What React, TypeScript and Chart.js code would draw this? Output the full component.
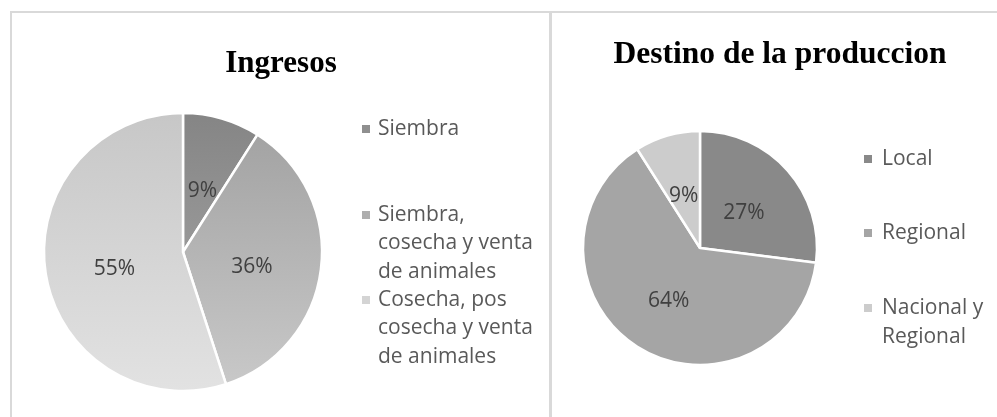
import React, { useEffect, useRef } from "react";
import { Chart, registerables } from "chart.js";

Chart.register(...registerables);

// ---- Data ----
const ingresosTitle = "Ingresos";
const ingresosLabels = [
  "Siembra",
  "Siembra, cosecha y venta de animales",
  "Cosecha, pos cosecha y venta de animales",
];
const ingresosLegendLines = [
  ["Siembra"],
  ["Siembra,", "cosecha y venta", "de animales"],
  ["Cosecha, pos", "cosecha y venta", "de animales"],
];
const ingresosValues = [9, 36, 55];

const destinoTitle = "Destino de la produccion";
const destinoLabels = ["Local", "Regional", "Nacional y Regional"];
const destinoLegendLines = [["Local"], ["Regional"], ["Nacional y", "Regional"]];
const destinoValues = [27, 64, 9];

// ---- Styles ----
const ingresosGradients = [
  ["#858585", "#ababab"],
  ["#a0a0a0", "#c9c9c9"],
  ["#c7c7c7", "#e2e2e2"],
];
const destinoColors = ["#898989", "#a5a5a5", "#cccccc"];
const FONT = '"Open Sans", "Noto Sans", sans-serif';

const decorPlugin = {
  id: "decor",
  afterDatasetsDraw(chart: any, _args: any, opts: any) {
    const ctx = chart.ctx;
    const meta = chart.getDatasetMeta(0);
    const values = chart.data.datasets[0].data as number[];
    const total = values.reduce((a, b) => a + b, 0);
    ctx.save();
    // data labels
    ctx.font = `${opts.labelSize}px ${FONT}`;
    ctx.fillStyle = "#404040";
    ctx.textAlign = "center";
    ctx.textBaseline = "middle";
    meta.data.forEach((arc: any, i: number) => {
      const p = arc.getCenterPoint();
      ctx.fillText(Math.round((values[i] / total) * 100) + "%", p.x, p.y + (opts.labelDy || 0));
    });
    // title
    ctx.font = `bold ${opts.titleSize}px "Liberation Serif", "Times New Roman", serif`;
    ctx.fillStyle = "#000000";
    ctx.textBaseline = "alphabetic";
    ctx.fillText(opts.title, opts.titleX, opts.titleY);
    // legend
    ctx.textAlign = "left";
    ctx.textBaseline = "middle";
    ctx.font = `${opts.legendSize}px ${FONT}`;
    const lines: string[][] = opts.legendLines;
    lines.forEach((item, i) => {
      const y0 = opts.legendY[i];
      ctx.fillStyle = opts.markerColors[i];
      ctx.fillRect(opts.markerX, y0 - 4, 8, 8);
      ctx.fillStyle = "#595959";
      item.forEach((t, j) => {
        ctx.fillText(t, opts.textX, y0 + j * opts.lineH);
      });
    });
    ctx.restore();
  },
};

function PieChart(props: {
  width: number;
  height: number;
  labels: string[];
  values: number[];
  colors: (ctx: any) => any;
  padding: any;
  radius: number;
  decor: any;
}) {
  const ref = useRef<HTMLCanvasElement>(null);
  useEffect(() => {
    if (!ref.current) return;
    const chart = new Chart(ref.current, {
      type: "pie",
      data: {
        labels: props.labels,
        datasets: [
          {
            data: props.values,
            backgroundColor: props.colors,
            borderColor: "#ffffff",
            borderWidth: 2.5,
          },
        ],
      },
      options: {
        responsive: false,
        animation: false,
        radius: props.radius,
        layout: { padding: props.padding },
        plugins: {
          legend: { display: false },
          tooltip: { enabled: false },
          decor: props.decor,
        } as any,
      },
      plugins: [decorPlugin],
    } as any);
    return () => chart.destroy();
  }, []);
  return <canvas ref={ref} width={props.width} height={props.height} style={{ display: "block" }} />;
}

export default function App() {
  const ingresosColors = (c: any) => {
    const chart = c.chart;
    const area = chart.chartArea;
    if (!area) return ingresosGradients[c.dataIndex][0];
    const g = chart.ctx.createLinearGradient(0, area.top, 0, area.bottom);
    g.addColorStop(0, ingresosGradients[c.dataIndex][0]);
    g.addColorStop(1, ingresosGradients[c.dataIndex][1]);
    return g;
  };
  const destinoFill = (c: any) => destinoColors[c.dataIndex];
  const lineColor = "#d9d9d9";
  return (
    <div
      style={{
        position: "absolute",
        left: 0,
        top: 0,
        width: 997,
        height: 417,
        background: "#ffffff",
        overflow: "hidden",
      }}
    >
      <div
        style={{
          position: "absolute",
          left: 10,
          top: 11,
          width: 1000,
          height: 600,
          border: `2px solid ${lineColor}`,
          boxSizing: "border-box",
        }}
      />
      <div style={{ position: "absolute", left: 549, top: 11, width: 3, height: 600, background: lineColor }} />
      <div style={{ position: "absolute", left: 0, top: 0 }}>
        <PieChart
          width={549}
          height={417}
          labels={ingresosLabels}
          values={ingresosValues}
          colors={ingresosColors}
          radius={139}
          padding={{ left: 44, right: 549 - 322, top: 113, bottom: 417 - 391 }}
          decor={{
            title: ingresosTitle,
            titleX: 281,
            titleY: 72,
            titleSize: 31,
            labelSize: 21,
            labelDy: 6,
            legendSize: 21,
            legendLines: ingresosLegendLines,
            legendY: [129, 215, 300],
            lineH: 28.5,
            markerX: 362,
            textX: 378,
            markerColors: ["#8f8f8f", "#aeaeae", "#d4d4d4"],
          }}
        />
      </div>
      <div style={{ position: "absolute", left: 552, top: 0 }}>
        <PieChart
          width={445}
          height={417}
          labels={destinoLabels}
          values={destinoValues}
          colors={destinoFill}
          radius={117}
          padding={{ left: 148 - 117, right: 445 - (148 + 117), top: 131, bottom: 417 - 365 }}
          decor={{
            title: destinoTitle,
            titleX: 228,
            titleY: 63,
            titleSize: 31.5,
            labelSize: 21,
            labelDy: 4,
            legendSize: 21,
            legendLines: destinoLegendLines,
            legendY: [159, 233, 308],
            lineH: 29,
            markerX: 312,
            textX: 330,
            markerColors: destinoColors,
          }}
        />
      </div>
    </div>
  );
}
